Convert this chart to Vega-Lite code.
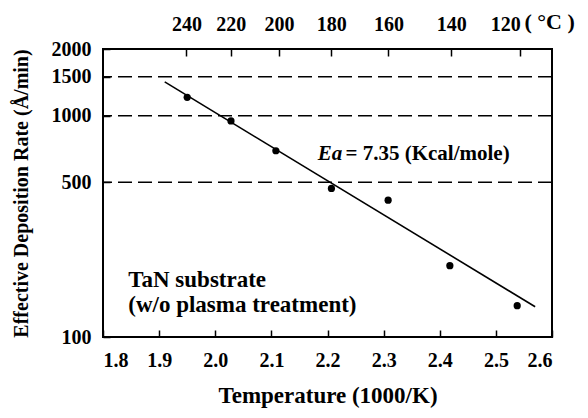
{
  "$schema": "https://vega.github.io/schema/vega-lite/v6.json",
  "width": 449,
  "height": 288,
  "autosize": "none",
  "padding": {"left": 103, "top": 49, "right": 36, "bottom": 81},
  "background": "white",
  "config": {
    "view": {"stroke": "black", "strokeWidth": 2},
    "font": "Liberation Serif",
    "axis": {
      "domain": false,
      "grid": false,
      "ticks": true,
      "tickSize": -7,
      "tickWidth": 1.5,
      "tickColor": "black",
      "labelFont": "Liberation Serif",
      "labelFontWeight": "bold",
      "labelFontSize": 20,
      "labelColor": "black",
      "titleFont": "Liberation Serif",
      "titleFontWeight": "bold",
      "titleColor": "black"
    }
  },
  "resolve": {"axis": {"x": "independent"}},
  "layer": [
    {
      "data": {"values": [{"rate": 1500}, {"rate": 1000}, {"rate": 500}]},
      "mark": {"type": "rule", "stroke": "black", "strokeWidth": 1.5, "strokeDash": [14, 6]},
      "encoding": {
        "y": {"field": "rate", "type": "quantitative", "scale": {"type": "log", "domain": [100, 2000], "nice": false},
          "axis": {"values": [100, 500, 1000, 1500, 2000], "format": "d", "labelPadding": 19,
            "title": "Effective Deposition Rate (Å/min)", "titleFontSize": 20, "titlePadding": 20}}
      }
    },
    {
      "data": {"values": [{"invT": 1.91, "rate": 1420}, {"invT": 2.57, "rate": 137}]},
      "mark": {"type": "line", "stroke": "black", "strokeWidth": 1.6},
      "encoding": {
        "x": {"field": "invT", "type": "quantitative", "scale": {"domain": [1.8, 2.6], "nice": false},
          "axis": {"orient": "top", "values": [1.94875, 2.02778, 2.11349, 2.20677, 2.30867, 2.42043, 2.54356],
            "labelExpr": "round(1000 / datum.value - 273.15)", "labelPadding": 22,
            "labelAlign": {"condition": {"test": "datum.value > 2.5", "value": "right"}, "value": "center"},
            "title": "( °C )", "titleFontSize": 22, "titleAngle": 0, "titleAlign": "left", "titleBaseline": "middle",
            "titleX": 421, "titleY": -28}},
        "y": {"field": "rate", "type": "quantitative", "title": "Effective Deposition Rate (Å/min)"}
      }
    },
    {
      "data": {"values": [
        {"invT": 1.950, "rate": 1210},
        {"invT": 2.028, "rate": 946},
        {"invT": 2.108, "rate": 694},
        {"invT": 2.207, "rate": 469},
        {"invT": 2.308, "rate": 415},
        {"invT": 2.418, "rate": 210},
        {"invT": 2.538, "rate": 138.5}
      ]},
      "mark": {"type": "circle", "color": "black", "opacity": 1, "size": 52},
      "encoding": {
        "x": {"field": "invT", "type": "quantitative",
          "axis": {"orient": "bottom", "values": [1.8, 1.9, 2.0, 2.1, 2.2, 2.3, 2.4, 2.5, 2.6], "format": ".1f",
            "labelPadding": 20, "title": "Temperature (1000/K)", "titleFontSize": 23, "titlePadding": 14}},
        "y": {"field": "rate", "type": "quantitative", "title": "Effective Deposition Rate (Å/min)"}
      }
    },
    {
      "data": {"values": [{"invT": 2.1827, "rate": 671, "label": "Ea"}]},
      "mark": {"type": "text", "align": "left", "baseline": "middle", "fontSize": 21, "fontWeight": "bold", "fontStyle": "italic", "font": "Liberation Serif", "color": "black"},
      "encoding": {
        "x": {"field": "invT", "type": "quantitative", "axis": null},
        "y": {"field": "rate", "type": "quantitative", "title": "Effective Deposition Rate (Å/min)"},
        "text": {"field": "label"}
      }
    },
    {
      "data": {"values": [{"invT": 2.232, "rate": 671, "label": "= 7.35 (Kcal/mole)"}]},
      "mark": {"type": "text", "align": "left", "baseline": "middle", "fontSize": 21, "fontWeight": "bold", "font": "Liberation Serif", "color": "black"},
      "encoding": {
        "x": {"field": "invT", "type": "quantitative", "axis": null},
        "y": {"field": "rate", "type": "quantitative", "title": "Effective Deposition Rate (Å/min)"},
        "text": {"field": "label"}
      }
    },
    {
      "data": {"values": [
        {"invT": 1.845, "rate": 181, "label": "TaN substrate"},
        {"invT": 1.845, "rate": 139.5, "label": "(w/o plasma treatment)"}
      ]},
      "mark": {"type": "text", "align": "left", "baseline": "middle", "fontSize": 23, "fontWeight": "bold", "font": "Liberation Serif", "color": "black"},
      "encoding": {
        "x": {"field": "invT", "type": "quantitative", "axis": null},
        "y": {"field": "rate", "type": "quantitative", "title": "Effective Deposition Rate (Å/min)"},
        "text": {"field": "label"}
      }
    }
  ]
}
